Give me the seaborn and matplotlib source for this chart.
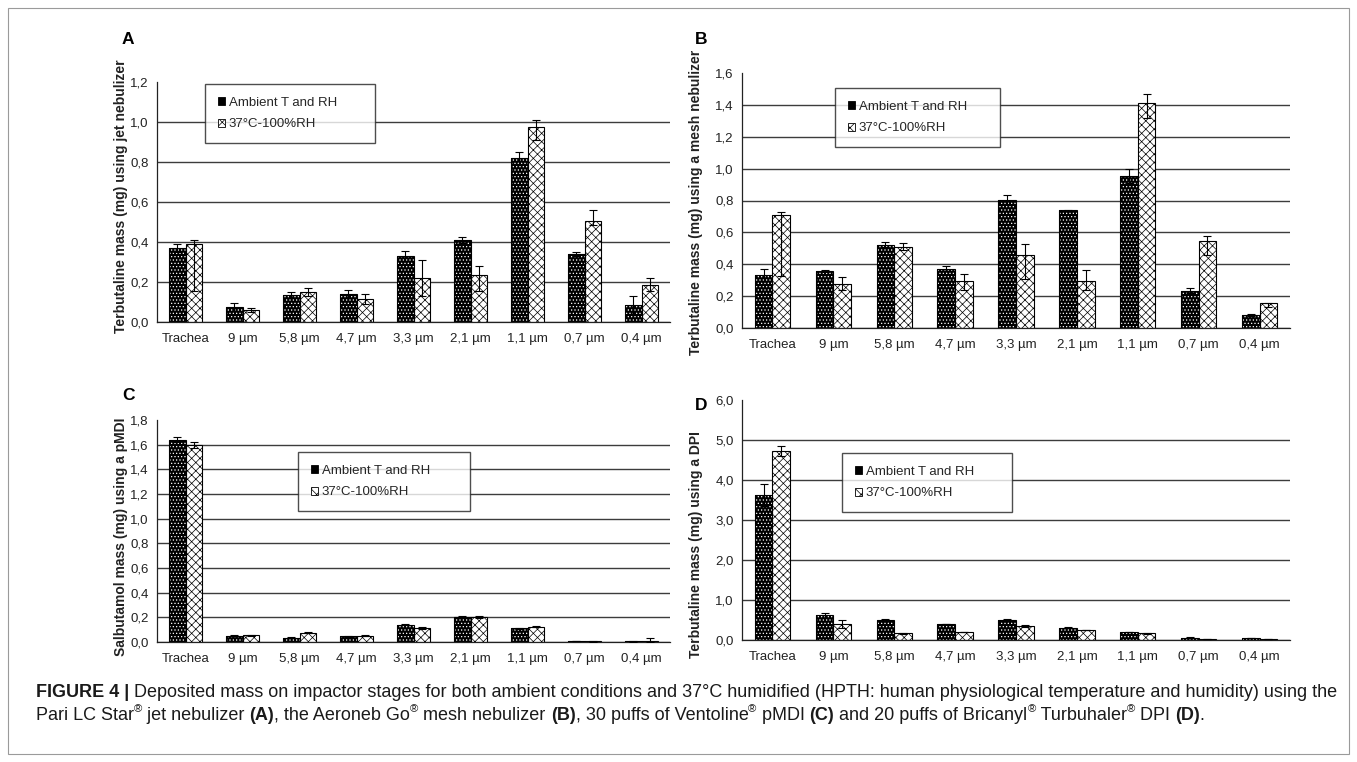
import matplotlib
matplotlib.use('Agg')
import matplotlib.pyplot as plt
import matplotlib.font_manager as fm
from matplotlib.patches import Patch, Rectangle
from matplotlib.ticker import FuncFormatter
import seaborn as sns
import pandas as pd
import numpy as np

# ---- data ----
stages = ['Trachea', '9 µm', '5,8 µm', '4,7 µm', '3,3 µm', '2,1 µm', '1,1 µm', '0,7 µm', '0,4 µm']
conditions = ['Ambient T and RH', '37°C-100%RH']

# A: jet nebulizer
amb_a = [0.37, 0.075, 0.135, 0.14, 0.33, 0.41, 0.82, 0.34, 0.085]
amb_a_err = [0.02, 0.018, 0.016, 0.018, 0.025, 0.014, 0.032, 0.01, 0.043]
hum_a = [0.39, 0.06, 0.15, 0.115, 0.22, 0.235, 0.977, 0.507, 0.185]
hum_a_hi = [0.022, 0.012, 0.018, 0.025, 0.09, 0.045, 0.035, 0.053, 0.035]
hum_a_lo = [0.235, 0.012, 0.018, 0.025, 0.09, 0.08, 0.065, 0.02, 0.03]

# B: mesh nebulizer
amb_b = [0.333, 0.357, 0.523, 0.372, 0.806, 0.739, 0.955, 0.235, 0.08]
amb_b_err = [0.039, 0.004, 0.017, 0.017, 0.029, 0.003, 0.045, 0.017, 0.005]
hum_b = [0.712, 0.279, 0.511, 0.295, 0.457, 0.295, 1.41, 0.544, 0.154]
hum_b_hi = [0.016, 0.039, 0.023, 0.046, 0.068, 0.067, 0.06, 0.035, 0.006]
hum_b_lo = [0.384, 0.039, 0.023, 0.055, 0.147, 0.058, 0.09, 0.089, 0.02]

# C: pMDI
amb_c = [1.64, 0.05, 0.035, 0.045, 0.14, 0.205, 0.11, 0.008, 0.006]
amb_c_err = [0.02, 0.003, 0.003, 0.003, 0.006, 0.004, 0.004, 0.002, 0.002]
hum_c = [1.595, 0.055, 0.075, 0.05, 0.115, 0.205, 0.125, 0.006, 0.01]
hum_c_hi = [0.025, 0.004, 0.004, 0.004, 0.006, 0.008, 0.006, 0.002, 0.025]
hum_c_lo = [0.025, 0.004, 0.004, 0.004, 0.006, 0.008, 0.006, 0.002, 0.01]

# D: DPI
amb_d = [3.63, 0.62, 0.5, 0.4, 0.5, 0.31, 0.2, 0.06, 0.045]
amb_d_err = [0.27, 0.06, 0.02, 0.01, 0.02, 0.02, 0.01, 0.01, 0.005]
hum_d = [4.73, 0.4, 0.17, 0.2, 0.35, 0.25, 0.17, 0.025, 0.02]
hum_d_hi = [0.12, 0.1, 0.01, 0.01, 0.03, 0.01, 0.01, 0.005, 0.005]
hum_d_lo = [0.12, 0.1, 0.01, 0.01, 0.03, 0.01, 0.01, 0.005, 0.005]

ylabels = ['Terbutaline mass (mg) using jet nebulizer',
           'Terbutaline mass (mg) using a mesh nebulizer',
           'Salbutamol mass (mg) using a pMDI',
           'Terbutaline mass (mg) using a DPI']

W, H = 1357, 762
sns.set_style('white')
names = {f.name for f in fm.fontManager.ttflist}
narrow = 'Liberation Sans Narrow' if 'Liberation Sans Narrow' in names else 'Liberation Sans'
plt.rcParams['font.family'] = ['Liberation Sans', 'DejaVu Sans']
plt.rcParams['hatch.linewidth'] = 0.5

fig = plt.figure(figsize=(W / 100, H / 100), dpi=100)


def px_axes(l, t, r, b):
    return fig.add_axes([l / W, 1 - b / H, (r - l) / W, (b - t) / H])


panels = [
    ('A', amb_a, amb_a_err, hum_a, hum_a_lo, hum_a_hi, 1.2, 0.2, (157, 82, 670, 322), (205, 84, 170), (121, 196), (122, 40)),
    ('B', amb_b, amb_b_err, hum_b, hum_b_lo, hum_b_hi, 1.6, 0.2, (742, 73, 1290, 328), (835, 88, 165), (696, 202), (695, 40)),
    ('C', amb_c, amb_c_err, hum_c, hum_c_lo, hum_c_hi, 1.8, 0.2, (157, 420, 670, 642), (298, 452, 172), (121, 537), (122, 395)),
    ('D', amb_d, amb_d_err, hum_d, hum_d_lo, hum_d_hi, 6.0, 1.0, (742, 400, 1290, 640), (842, 453, 170), (696, 545), (695, 405)),
]

for i, (key, amb, amb_err, hum, hum_lo, hum_hi, ymax, step, rect, leg, ylab_pos, key_pos) in enumerate(panels):
    ax = px_axes(*rect)
    df = pd.DataFrame({
        'stage': stages * 2,
        'condition': [conditions[0]] * len(stages) + [conditions[1]] * len(stages),
        'value': list(amb) + list(hum),
    })
    sns.barplot(data=df, x='stage', y='value', hue='condition', order=stages,
                hue_order=conditions, palette=['black', 'white'], width=0.58,
                gap=0, errorbar=None, legend=False, ax=ax, zorder=2)

    amb_bars, hum_bars = ax.containers[0], ax.containers[1]
    xa = [p.get_x() + p.get_width() / 2 for p in amb_bars]
    xh = [p.get_x() + p.get_width() / 2 for p in hum_bars]
    bw = amb_bars[0].get_width()
    for p in amb_bars:
        p.set_facecolor('black')
        p.set_edgecolor('white')
        p.set_linewidth(0)
        p.set_hatch('.....')
    for p in hum_bars:
        p.set_facecolor('white')
        p.set_edgecolor('black')
        p.set_linewidth(0.8)
        p.set_hatch('xxxx')
    ax.bar(xa, amb, width=bw, fill=False, edgecolor='black', linewidth=0.8, zorder=3)

    ax.errorbar(xa, amb, yerr=[amb_err, amb_err], fmt='none', ecolor='black',
                elinewidth=0.8, capsize=2.8, capthick=0.8, zorder=4)
    ax.errorbar(xh, hum, yerr=[hum_lo, hum_hi], fmt='none', ecolor='black',
                elinewidth=0.8, capsize=2.8, capthick=0.8, zorder=4)

    ax.set_xlim(-0.5, len(stages) - 0.5)
    ax.set_ylim(0, ymax)
    yt = np.round(np.arange(0, ymax + step / 2, step), 3)
    ax.set_yticks(yt)
    ax.yaxis.set_major_formatter(FuncFormatter(lambda v, _p: '{:.1f}'.format(v).replace('.', ',')))
    ax.set_xticks(np.arange(-0.5, len(stages), 1.0), minor=True)
    ax.tick_params(axis='x', which='major', length=0, pad=8, labelsize=9.5, labelfontfamily=narrow, colors='#222222')
    ax.tick_params(axis='x', which='minor', length=5, width=0.9, direction='out', color='#222222')
    ax.tick_params(axis='y', length=4, width=0.9, direction='out', pad=2, labelsize=9.5,
                   labelfontfamily=narrow, colors='#222222')
    ax.set_xlabel('')
    ax.set_ylabel('')
    ax.set_axisbelow(True)
    ax.yaxis.grid(True, color='#3c3c3c', linewidth=1.0)
    ax.yaxis.get_major_ticks()[-1].gridline.set_visible(False)
    sns.despine(ax=ax)
    for s in ['left', 'bottom']:
        ax.spines[s].set_color('#222222')
        ax.spines[s].set_linewidth(0.9)

    handles = [Patch(facecolor='black', edgecolor='black', linewidth=0.6),
               Patch(facecolor='white', edgecolor='black', hatch='xxx', linewidth=0.6)]
    lx, ly, lw = leg
    lg = ax.legend(handles, conditions, loc='upper left', mode='expand',
                   bbox_to_anchor=(lx / W, 1 - ly / H, lw / W, 0), bbox_transform=fig.transFigure,
                   borderaxespad=0, frameon=True, fancybox=False, fontsize=9.5,
                   handlelength=0.6, handleheight=0.6, handletextpad=0.25,
                   labelspacing=0.75, borderpad=0.95)
    lg.get_frame().set_edgecolor('#222222')
    lg.get_frame().set_linewidth(1.0)
    lg.set_zorder(10)

    fig.text(ylab_pos[0] / W, 1 - ylab_pos[1] / H, ylabels[i], rotation=90, ha='center', va='center',
             fontsize=10, fontweight='bold', color='#222222')
    fig.text(key_pos[0] / W, 1 - key_pos[1] / H, key, ha='left', va='center',
             fontsize=12.5, fontweight='bold', color='black')

# ---- caption ----
renderer = fig.canvas.get_renderer()


def run_width(s, kw):
    t = fig.text(0, 0, '|' + s + '|', **kw)
    w1 = t.get_window_extent(renderer).width
    t.remove()
    t = fig.text(0, 0, '||', **kw)
    w2 = t.get_window_extent(renderer).width
    t.remove()
    return w1 - w2


def run_kw(style, size):
    kw = dict(fontsize=size, family=narrow, color='#1a1a1a')
    if style == 'b':
        kw['fontweight'] = 'bold'
    if style == 's':
        kw['fontsize'] = size * 0.62
    return kw


line1 = [('FIGURE 4 |', 'b'),
         (' Deposited mass on impactor stages for both ambient conditions and 37°C humidified '
          '(HPTH: human physiological temperature and humidity) using the', 'n')]
line2 = [('Pari LC Star', 'n'), ('®', 's'), (' jet nebulizer ', 'n'), ('(A)', 'b'),
         (', the Aeroneb Go', 'n'), ('®', 's'), (' mesh nebulizer ', 'n'), ('(B)', 'b'),
         (', 30 puffs of Ventoline', 'n'), ('®', 's'), (' pMDI ', 'n'), ('(C)', 'b'),
         (' and 20 puffs of Bricanyl', 'n'), ('®', 's'), (' Turbuhaler', 'n'), ('®', 's'),
         (' DPI ', 'n'), ('(D)', 'b'), ('.', 'n')]

base = 11
w_line1 = sum(run_width(t, run_kw(s, base)) for t, s in line1)
size = base * 1300 / w_line1

for runs, y_px in [(line1, 697), (line2, 720)]:
    x = 36
    for text, style in runs:
        kw = run_kw(style, size)
        dy = size * 0.45 * 100 / 72 if style == 's' else 0
        fig.text(x / W, 1 - (y_px - dy) / H, text, ha='left', va='baseline', **kw)
        x += run_width(text, kw)

fig.add_artist(Rectangle((8 / W, 1 - 754 / H), (1349 - 8) / W, (754 - 8) / H,
                         transform=fig.transFigure, fill=False, edgecolor='#9a9a9a', linewidth=0.8))

fig.savefig('out.png', dpi=100)
